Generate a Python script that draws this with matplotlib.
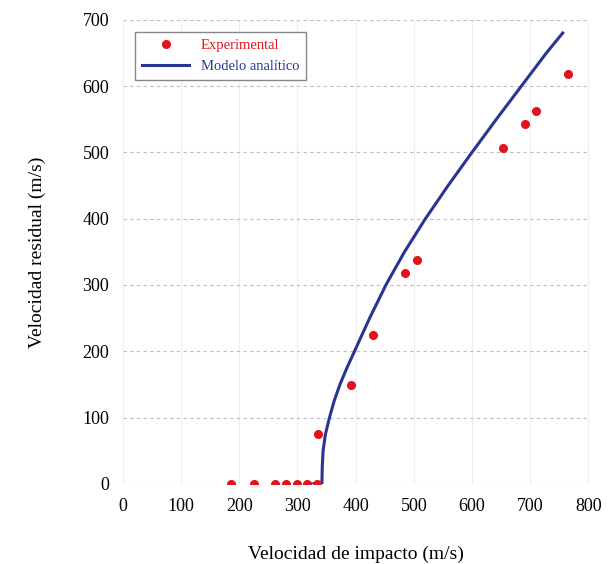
import matplotlib.pyplot as plt

plt.rcParams['font.family'] = ['Liberation Serif', 'DejaVu Serif']

# puntos experimentales (velocidad de impacto, velocidad residual)
exp_vi = [186, 225, 262, 280, 299, 317, 334, 336, 392, 430, 485, 505, 654, 691, 710, 765]
exp_vr = [0, 0, 0, 0, 0, 0, 0, 75, 149, 224, 318, 337, 506, 543, 562, 618]

# curva del modelo analitico
mod_vi = [320, 342, 342.5, 344, 348, 355, 363, 373, 385, 398, 424, 452,
          484, 520, 559, 600, 642, 685, 728, 756]
mod_vr = [0, 0, 25, 50, 75, 100, 125, 150, 175, 200, 250, 300,
          350, 400, 450, 500, 550, 600, 650, 680]

xticks = [0, 100, 200, 300, 400, 500, 600, 700, 800]
yticks = [0, 100, 200, 300, 400, 500, 600, 700]

fig = plt.figure(figsize=(6.09, 5.64), dpi=100)
ax = fig.add_axes([0.202, 0.142, 0.764, 0.823])

ax.plot(mod_vi, mod_vr, color='#2a3591', lw=2.2, label='Modelo analítico', zorder=3)
ax.plot(exp_vi, exp_vr, 'o', color='#e3121b', ms=5.5, label='Experimental', zorder=4)

ax.set_xlim(0, 800)
ax.set_ylim(0, 700)
ax.set_xticks(xticks)
ax.set_yticks(yticks)
ax.tick_params(length=0, labelsize=13, pad=10)

# rejilla: horizontales punteadas, verticales muy tenues
ax.grid(axis='y', color='#b8bcd0', ls=(0, (3, 3)), lw=0.8)
ax.grid(axis='x', color='#eeeef2', ls='-', lw=0.8)
ax.set_axisbelow(True)
for s in ['left', 'bottom', 'top']:
    ax.spines[s].set_visible(False)
ax.spines['right'].set_color('#eeeef2')

ax.set_xlabel('Velocidad de impacto (m/s)', fontsize=14, labelpad=22)
ax.set_ylabel('Velocidad residual (m/s)', fontsize=14, labelpad=26)

h, l = ax.get_legend_handles_labels()
leg = ax.legend([h[1], h[0]], [l[1], l[0]], loc='upper left', bbox_to_anchor=(0.01, 0.99),
                fontsize=10.5, fancybox=False, edgecolor='#888888', framealpha=1,
                handlelength=3.2, borderpad=0.5)
leg.get_frame().set_linewidth(1.0)
leg.get_texts()[0].set_color('#e3121b')
leg.get_texts()[1].set_color('#2a3591')

plt.savefig('out.png', dpi=100)
